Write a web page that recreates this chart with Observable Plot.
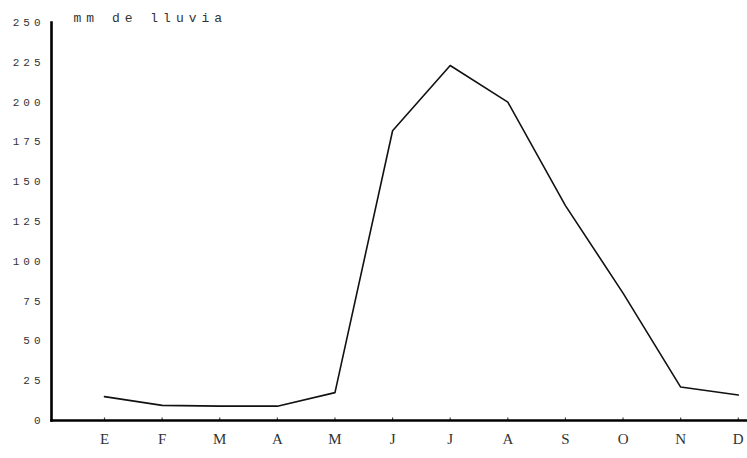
<!DOCTYPE html>
<html>
<head>
<meta charset="utf-8">
<script src="https://cdn.jsdelivr.net/npm/d3@7"></script>
<script src="https://cdn.jsdelivr.net/npm/@observablehq/plot@0.6"></script>
<style>
  html, body { margin: 0; padding: 0; background: #fff; }
  #chart svg { display: block; }
  .yax text { letter-spacing: 4px; }
  .ttl text { letter-spacing: 5px; }
  .xax text { font-family: 'Liberation Serif', serif; }
</style>
</head>
<body>
<div id="chart"></div>
<script>
const months = ["E","F","M","A","M","J","J","A","S","O","N","D"];
const rainfall = [15, 9.5, 9, 9, 17.5, 182, 223, 200, 135, 80, 21, 16];
const yTicks = [0, 25, 50, 75, 100, 125, 150, 175, 200, 225, 250];
const yTitle = "mm de lluvia";

const data = months.map((m, i) => ({i, m, v: rainfall[i]}));
const idx = d3.range(months.length);

const chart = Plot.plot({
  width: 747,
  height: 458,
  marginLeft: 51,
  marginRight: 0,
  marginTop: 22,
  marginBottom: 38,
  style: {fontFamily: "'Liberation Mono', monospace", color: "#333", background: "#fff"},
  x: {type: "linear", domain: [-0.92, 11.16]},
  y: {domain: [0, 250]},
  marks: [
    Plot.axisY({ticks: yTicks, tickSize: 0, tickPadding: 7, fontSize: 11, label: null, className: "yax"}),
    Plot.axisX({ticks: idx, tickFormat: i => months[i], tickSize: 0, tickPadding: 13, fontSize: 15, label: null, className: "xax"}),
    Plot.ruleX(idx, {x: d => d, y1: 0, y2: 1.6, stroke: "#444", strokeWidth: 1.2}),
    Plot.frame({anchor: "left", stroke: "#000", strokeWidth: 2.6}),
    Plot.frame({anchor: "bottom", stroke: "#000", strokeWidth: 2.6}),
    Plot.line(data, {x: "i", y: "v", stroke: "#111", strokeWidth: 1.6}),
    Plot.text([yTitle], {frameAnchor: "top-left", text: d => d, dx: 22, dy: -5, textAnchor: "start", lineAnchor: "middle", fontSize: 13, fill: "#333", className: "ttl"})
  ]
});
document.getElementById("chart").append(chart);
</script>
</body>
</html>
